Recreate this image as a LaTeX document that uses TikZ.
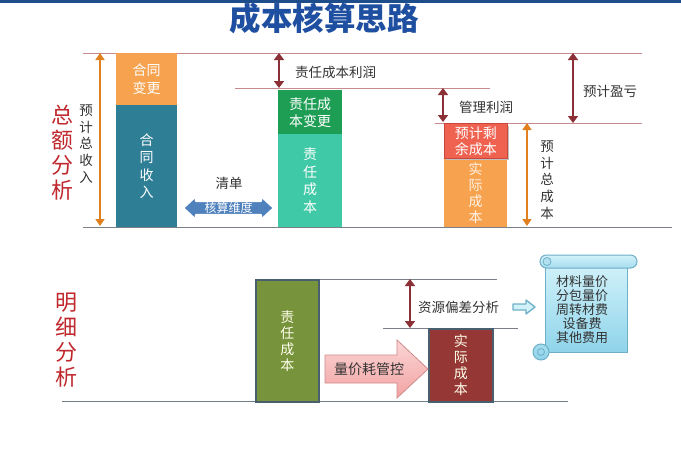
\documentclass[tikz,border=0pt]{standalone}
\usepackage{fontspec}
\setmainfont{Noto Sans CJK SC}
\usetikzlibrary{arrows.meta}
\definecolor{titleblue}{HTML}{1F4FA0}
\definecolor{bandblue}{HTML}{1E4D8C}
\definecolor{linered}{HTML}{C98A8E}
\definecolor{basegray}{HTML}{7A7F88}
\definecolor{arrred}{HTML}{8B3036}
\definecolor{arrorange}{HTML}{E0801E}
\definecolor{barorange}{HTML}{F6A24E}
\definecolor{barteal}{HTML}{2E7F96}
\definecolor{bargreen}{HTML}{1E9E55}
\definecolor{barmint}{HTML}{40C9A6}
\definecolor{barred}{HTML}{EF6250}
\definecolor{redborder}{HTML}{C8473A}
\definecolor{olive}{HTML}{77933C}
\definecolor{darkred}{HTML}{953735}
\definecolor{boxborder}{HTML}{4A5F6E}
\definecolor{sidered}{HTML}{C0282E}
\definecolor{txtgray}{HTML}{333333}
\definecolor{dimblue}{HTML}{4F81BD}
\definecolor{pinkA}{HTML}{FBD5D5}
\definecolor{pinkB}{HTML}{F2A3A3}
\definecolor{pinkborder}{HTML}{D08A8A}
\definecolor{scrollA}{HTML}{D2F2FA}
\definecolor{scrollB}{HTML}{8FD4EA}
\definecolor{scrollborder}{HTML}{6FAFC8}
\begin{document}
\begin{tikzpicture}[x=1pt,y=-1pt,
  hline/.style={draw=linered,line width=1pt},
  bline/.style={draw=basegray,line width=1pt},
  darr/.style={{Triangle[length=7pt,width=10pt]}-{Triangle[length=7pt,width=10pt]},line width=1.8pt,draw=arrred},
  oarr/.style={{Triangle[length=7pt,width=9pt]}-{Triangle[length=7pt,width=9pt]},line width=1.6pt,draw=arrorange},
  lbl/.style={font=\fontsize{13.5}{16}\selectfont,text=txtgray,inner sep=0pt,anchor=west},
  vlbl/.style={font=\fontsize{13.5}{16.6}\selectfont,text=txtgray,inner sep=0pt,align=center},
  side/.style={font=\fontsize{22}{25}\selectfont,text=sidered,inner sep=0pt,align=center},
  bar/.style={fill=#1,anchor=north west,inner sep=0pt,align=center,text=white,
    font=\fontsize{14}{17.5}\selectfont},
  lowbox/.style={fill=#1,draw=boxborder,line width=1.6pt,anchor=north west,inner sep=0pt,
    align=center,text=white!92!yellow,font=\fontsize{14}{16}\selectfont}
]
\useasboundingbox (0,0) rectangle (681,453);
\fill[white] (0,0) rectangle (681,453);
\fill[bandblue] (0,0) rectangle (681,3);
% title
\node[font=\bfseries\fontsize{31.5}{33}\selectfont,text=titleblue,inner sep=0pt] (title) at (324,18) {成本核算思路};

% ---------- upper part ----------
\coordinate (L1a) at (83,53);  \coordinate (L1b) at (642,53);
\coordinate (L2a) at (235,88); \coordinate (L2b) at (490,88);
\coordinate (L3a) at (435,123);\coordinate (L3b) at (642,123);
\coordinate (B1a) at (83,227); \coordinate (B1b) at (672,227);
\draw[hline] (L1a) -- (L1b);
\draw[hline] (L2a) -- (L2b);
\draw[hline] (L3a) -- (L3b);
\draw[bline] (B1a) -- (B1b);

% bar 1
\node[bar=barorange,minimum width=61pt,minimum height=52pt] (b1top) at (116,53) {合同\\变更};
\node[bar=barteal,minimum width=61pt,minimum height=122pt] (b1bot) at (116,105) {合\\同\\收\\入};
% bar 2
\node[bar=bargreen,minimum width=64pt,minimum height=44pt,font=\fontsize{14}{17}\selectfont] (b2top) at (278,90) {责任成\\本变更};
\node[bar=barmint,minimum width=64pt,minimum height=93pt] (b2bot) at (278,134) {责\\任\\成\\本};
% bar 3
\node[bar=barorange,minimum width=63pt,minimum height=69pt,font=\fontsize{14}{16}\selectfont,text=white!90!orange] (b3bot) at (444,158) {实\\际\\成\\本};
\fill[black!25] (446,126) rectangle (509,160);
\node[bar=barred,draw=redborder,line width=0.8pt,minimum width=63pt,minimum height=35pt,font=\fontsize{14}{16}\selectfont] (b3top) at (444,123) {预计剩\\余成本};

% arrows
\coordinate (oa1) at (100,53);  \coordinate (ob1) at (100,226);
\coordinate (ra1) at (279,53);  \coordinate (rb1) at (279,88);
\coordinate (ra2) at (443,88);  \coordinate (rb2) at (443,122);
\coordinate (ra3) at (573,53);  \coordinate (rb3) at (573,123);
\coordinate (oa2) at (527,123); \coordinate (ob2) at (527,226);
\draw[oarr] (oa1) -- (ob1);
\draw[darr] (ra1) -- (rb1);
\draw[darr] (ra2) -- (rb2);
\draw[darr] (ra3) -- (rb3);
\draw[oarr] (oa2) -- (ob2);

% labels
\node[lbl] (t1) at (295,72) {责任成本利润};
\node[lbl] (t2) at (459,107) {管理利润};
\node[lbl] (t3) at (583,91) {预计盈亏};
\node[vlbl] (t4) at (86,144) {预\\计\\总\\收\\入};
\node[vlbl] (t5) at (547,180) {预\\计\\总\\成\\本};
\node[side] (s1) at (62,153) {总\\额\\分\\析};
\node[font=\fontsize{13.5}{16}\selectfont,text=txtgray,inner sep=0pt] (qd) at (229,183) {清单};

% 核算维度 double arrow
\draw[white,line width=2.2pt,fill=dimblue,line join=round]
  (183,208) -- (196,196) -- (196,201) -- (261,201) -- (261,196) -- (274,208)
  -- (261,220) -- (261,215) -- (196,215) -- (196,220) -- cycle;
\node[font=\fontsize{12}{14}\selectfont,text=white,inner sep=0pt] (dim) at (228.5,208) {核算维度};

% ---------- lower part ----------
\coordinate (L4a) at (318,279); \coordinate (L4b) at (497,279);
\coordinate (L5a) at (383,328); \coordinate (L5b) at (518,328);
\coordinate (B2a) at (62,401);  \coordinate (B2b) at (568,401);
\draw[bline] (L4a) -- (L4b);
\draw[bline] (L5a) -- (L5b);
\draw[draw=boxborder!80,line width=1pt] (B2a) -- (B2b);

\node[lowbox=olive,minimum width=63pt,minimum height=122pt] (g1) at (255,279) {责\\任\\成\\本};
\node[lowbox=darkred,minimum width=64pt,minimum height=73pt] (r1) at (428,328) {实\\际\\成\\本};

\coordinate (ra4) at (410,279); \coordinate (rb4) at (410,328);
\draw[darr] (ra4) -- (rb4);
\node[lbl] (t6) at (418,307) {资源偏差分析};
\node[side] (s2) at (67,340) {明\\细\\分\\析};

% small hollow arrow
\draw[scrollborder,line width=1.3pt,fill=scrollA,line join=round]
  (513,304) -- (526,304) -- (526,300) -- (535,307) -- (526,314) -- (526,310) -- (513,310) -- cycle;

% big pink arrow
\shade[top color=pinkA,bottom color=pinkB,draw=pinkborder,line width=0.8pt]
  (325,355) -- (397,355) -- (397,340) -- (428,369) -- (397,398) -- (397,383) -- (325,383) -- cycle;
\node[font=\fontsize{14}{16}\selectfont,text=txtgray,inner sep=0pt] (ctl) at (369,369) {量价耗管控};

% scroll
\shade[top color=scrollA,bottom color=scrollB,draw=scrollborder,line width=1pt]
  (545,262) -- (545,352) -- (627,352) -- (627,262) -- cycle;
\shade[top color=scrollA,bottom color=scrollB!80,draw=scrollborder,line width=1pt,rounded corners=6.5pt]
  (540,255) rectangle (637,268);
\draw[scrollborder,line width=0.8pt,fill=scrollB!70] (547,261.5) circle (4pt);
\shade[top color=scrollB!80,bottom color=scrollB,draw=scrollborder,line width=1pt]
  (541,352) circle (8pt);
\draw[scrollborder,line width=0.8pt] (541,352) circle (3.5pt);
\node[font=\fontsize{13}{14}\selectfont,text=txtgray,inner sep=0pt,align=center] (list) at (582,310)
  {材料量价\\分包量价\\周转材费\\设备费\\其他费用};
\end{tikzpicture}
\end{document}
